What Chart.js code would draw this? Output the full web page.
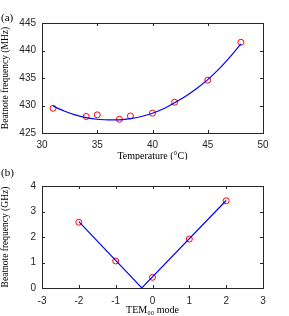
<!DOCTYPE html>
<html>
<head>
<meta charset="utf-8">
<script src="https://cdn.jsdelivr.net/npm/chart.js@4"></script>
<style>
  body { margin: 0; background: #fff; width: 289px; height: 316px; position: relative; overflow: hidden; }
  canvas { position: absolute; left: 0; }
  .tag { position: absolute; left: 1px; font: 11px "Liberation Serif", serif; color: #000; }
</style>
</head>
<body>
<canvas id="chartA" width="289" height="160" style="top:0"></canvas>
<canvas id="chartB" width="289" height="156" style="top:160px"></canvas>
<div class="tag" style="top:11px">(a)</div>
<div class="tag" style="top:166px">(b)</div>
<script>
// (a) beatnote vs temperature
const tempC = [31, 34, 35, 37, 38, 40, 42, 45, 48];
const beatMHz = [429.5, 428.0, 428.3, 427.5, 428.1, 428.6, 430.6, 434.6, 441.5];
// fitted curve
const fitTemp = [31, 32, 33, 34, 35, 36, 37, 38, 39, 40, 41, 42, 43, 44, 45, 46, 47, 48];
const fitMHz = [429.9, 429.0, 428.3, 427.8, 427.5, 427.4, 427.4, 427.6, 428.0, 428.6, 429.4, 430.5, 431.7, 433.1, 434.7, 436.6, 438.8, 441.2];
const tempTicks = [30, 35, 40, 45, 50];
const mhzTicks = [425, 430, 435, 440, 445];

// (b) beatnote vs TEM00 mode
const modeNum = [-2, -1, 0, 1, 2];
const beatGHz = [2.58, 1.06, 0.42, 1.92, 3.42];
const lineMode = [-2, -0.29, 2];
const lineGHz = [2.6, 0, 3.43];
const modeTicks = [-3, -2, -1, 0, 1, 2, 3];
const ghzTicks = [0, 1, 2, 3, 4];

const axisColor = '#262626';
const sans = '"Liberation Sans", Arial, sans-serif';
const serif = '"Liberation Serif", "Times New Roman", serif';

// matlab style box with inward ticks
const frame = {
  id: 'frame',
  afterDatasetsDraw(chart) {
    const { ctx, chartArea: a, scales } = chart;
    ctx.save();
    ctx.strokeStyle = axisColor;
    ctx.lineWidth = 1;
    ctx.beginPath();
    scales.x.ticks.forEach(t => {
      const px = Math.round(scales.x.getPixelForValue(t.value)) + 0.5;
      ctx.moveTo(px, a.bottom); ctx.lineTo(px, a.bottom - 3);
      ctx.moveTo(px, a.top); ctx.lineTo(px, a.top + 3);
    });
    scales.y.ticks.forEach(t => {
      const py = Math.round(scales.y.getPixelForValue(t.value)) + 0.5;
      ctx.moveTo(a.left, py); ctx.lineTo(a.left + 3, py);
      ctx.moveTo(a.right, py); ctx.lineTo(a.right - 3, py);
    });
    ctx.stroke();
    ctx.strokeRect(Math.round(a.left) + 0.5, Math.round(a.top) + 0.5,
      Math.round(a.right - a.left), Math.round(a.bottom - a.top));
    ctx.restore();
  }
};

function makeScales(xr, xt, xTitle, yr, yt, yTitle, xHeight, tickPad, titlePad) {
  return {
    x: {
      type: 'linear', min: xr[0], max: xr[1],
      afterBuildTicks: s => { s.ticks = xt.map(v => ({ value: v })); },
      afterFit: s => { s.height = xHeight; },
      grid: { display: false, drawTicks: false },
      border: { display: false },
      ticks: { padding: tickPad, color: axisColor, font: { family: sans, size: 10 } },
      title: { display: true, text: xTitle, color: '#000', font: { family: serif, size: 10 }, padding: { top: 0, bottom: titlePad } }
    },
    y: {
      type: 'linear', min: yr[0], max: yr[1],
      afterBuildTicks: s => { s.ticks = yt.map(v => ({ value: v })); },
      afterFit: s => { s.width = 42; },
      grid: { display: false, drawTicks: false },
      border: { display: false },
      ticks: { padding: 6, color: axisColor, font: { family: sans, size: 10 } },
      title: { display: true, text: yTitle, color: '#000', font: { family: serif, size: 9.5 }, padding: 0 }
    }
  };
}

const commonOpts = {
  responsive: false,
  animation: false,
  plugins: { legend: { display: false }, tooltip: { enabled: false } }
};

function pts(xs, ys) {
  return xs.map((x, i) => ({ x: x, y: ys[i] }));
}

new Chart(document.getElementById('chartA'), {
  type: 'scatter',
  data: {
    datasets: [
      {
        type: 'line', data: pts(fitTemp, fitMHz), borderColor: '#0000ff', borderWidth: 1.2,
        pointRadius: 0, tension: 0.3, fill: false
      },
      {
        data: pts(tempC, beatMHz), borderColor: '#ff0000', backgroundColor: 'rgba(0,0,0,0)',
        pointRadius: 3, borderWidth: 1
      }
    ]
  },
  options: Object.assign({}, commonOpts, {
    layout: { padding: { top: 23, right: 26, left: 0, bottom: 0 } },
    scales: makeScales([30, 50], tempTicks, 'Temperature (°C)', [425, 445], mhzTicks, 'Beatnote frequency (MHz)', 27, 6, -2)
  }),
  plugins: [frame]
});

new Chart(document.getElementById('chartB'), {
  type: 'scatter',
  data: {
    datasets: [
      {
        type: 'line', data: pts(lineMode, lineGHz), borderColor: '#0000ff', borderWidth: 1.2,
        pointRadius: 0, tension: 0, fill: false, clip: false
      },
      {
        data: pts(modeNum, beatGHz), borderColor: '#ff0000', backgroundColor: 'rgba(0,0,0,0)',
        pointRadius: 3, borderWidth: 1
      }
    ]
  },
  options: Object.assign({}, commonOpts, {
    layout: { padding: { top: 26, right: 26, left: 0, bottom: 0 } },
    scales: makeScales([-3, 3], modeTicks, 'TEM₀₀ mode', [0, 4], ghzTicks, 'Beatnote frequency (GHz)', 28, 7, 0)
  }),
  plugins: [frame]
});
</script>
</body>
</html>
